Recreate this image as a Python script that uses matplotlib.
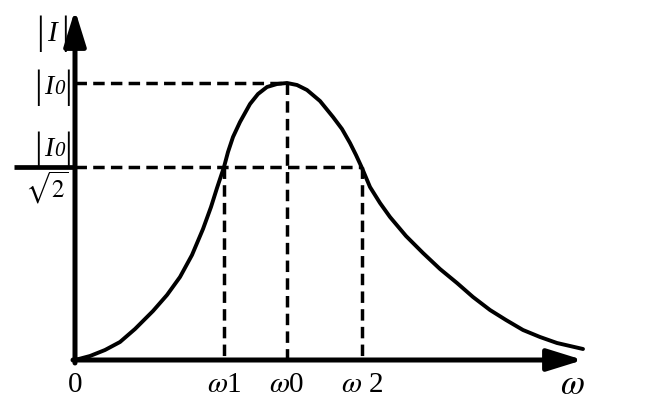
import matplotlib
matplotlib.use("Agg")
import matplotlib.pyplot as plt

# Resonance curve |I|(omega) (arbitrary units)
omega = [0, 15, 30, 45, 60, 78, 92, 105, 117, 128, 136, 142, 149, 153, 158, 165,
         175, 183, 192, 202, 212, 222, 232, 245, 258, 267, 275, 281, 287, 295,
         305, 315, 331, 348, 365, 382, 398, 415, 431, 448, 465, 482, 495, 508]
current = [0, 4, 10, 18, 31, 49, 65, 83, 105, 131, 153, 172, 193, 208, 223, 238,
           256, 266, 273, 276, 277, 275, 270, 259, 243, 231, 217, 205, 192, 173,
           157, 143, 124, 107, 91, 77, 63, 50, 40, 30, 23, 17, 14, 11]

I0 = 277          # peak current
I_half = 193      # |I0|/sqrt(2) level
w0 = 212
w1 = 149
w2 = 287
x_tip = 508       # end of omega axis arrow
y_tip = 350       # end of |I| axis arrow

x_labels = ["0", r"$\omega$1", r"$\omega$0", r"$\omega$ 2"]
x_label_pos = [0, w1, w0, w2]

plt.rcParams["mathtext.fontset"] = "stix"
plt.rcParams["font.family"] = ["Liberation Serif", "DejaVu Serif"]

fig = plt.figure(figsize=(6.7, 4.0), dpi=100)
ax = fig.add_axes([0, 0, 1, 1])
ax.set_xlim(-75, 595)
ax.set_ylim(-40, 360)
ax.axis("off")

dash = dict(color="black", lw=2.5, linestyle=(0, (3.3, 1.8)))

# dashed guides
ax.plot([0, w0], [I0, I0], **dash)
ax.plot([w0, w0], [I0, 0], **dash)
ax.plot([0, w2], [I_half, I_half], **dash)
ax.plot([w1, w1], [I_half, 0], **dash)
ax.plot([w2, w2], [I_half, 0], **dash)

# fraction bar of |I0|/sqrt(2)
ax.plot([-61, 0], [I_half, I_half], color="black", lw=3.4, solid_capstyle="butt")

# curve
ax.plot(omega, current, color="black", lw=2.8, solid_joinstyle="round",
        solid_capstyle="round")

# axes with arrows
arrow = dict(arrowstyle="-|>,head_length=1.35,head_width=0.42", lw=3.6,
             color="black", shrinkA=0, shrinkB=0, mutation_scale=16)
ax.annotate("", xy=(x_tip, 0), xytext=(-2, 0), arrowprops=arrow)
ax.annotate("", xy=(0, y_tip), xytext=(0, -3), arrowprops=arrow)

# y labels
ax.text(-35, 326, "|", fontsize=28, ha="center", va="center")
ax.text(-10, 326, "|", fontsize=28, ha="center", va="center")
ax.text(-23, 326, "I", fontsize=21, style="italic", ha="center", va="center")

for yy in (273, 211):
    ax.text(-37, yy, "|", fontsize=28, ha="center", va="center")
    ax.text(-7, yy, "|", fontsize=28, ha="center", va="center")
    ax.text(-26.5, yy, "I", fontsize=20, style="italic", ha="center", va="center")
    ax.text(-16, yy - 2, "0", fontsize=15, style="italic", ha="center", va="center")

ax.text(-28, 172, r"$\sqrt{2}$", fontsize=18, ha="center", va="center")

# x labels
for lab, xp in zip(x_labels, x_label_pos):
    ax.text(xp, -25, lab, fontsize=21, ha="center", va="center")
ax.text(497, -25, r"$\omega$", fontsize=25, ha="center", va="center")

fig.savefig("out.png", dpi=100)
